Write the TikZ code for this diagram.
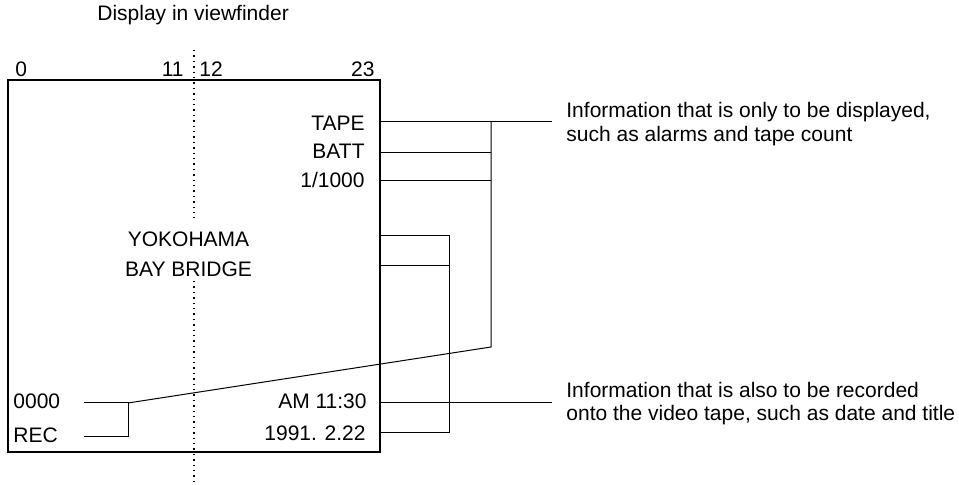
\documentclass[tikz,border=0pt]{standalone}
\usepackage{fontspec}
\setmainfont{Liberation Sans}
\begin{document}
\begin{tikzpicture}[x=0.5pt,y=-0.5pt,
  lbl/.style={inner sep=0pt, font=\fontsize{10.5}{12.6}\selectfont},
  wire/.style={line width=0.5pt},
  frame/.style={line width=1.3pt},
  guide/.style={line width=0.75pt, dash pattern=on 0.75pt off 1.95pt}]
\useasboundingbox (0,0) rectangle (959,485);
% title and column numbers
\node[lbl,anchor=base west] (title) at (97,21) {Display in viewfinder};
\node[lbl,anchor=base west] (n0) at (15,77) {0};
\node[lbl,anchor=base east] (n11) at (184,77) {11};
\node[lbl,anchor=base west] (n12) at (199,77) {12};
\node[lbl,anchor=base east] (n23) at (375,77) {23};
% centre guide
\coordinate (g1) at (194,50);
\coordinate (g2) at (194,218);
\coordinate (g3) at (194,281);
\coordinate (g4) at (194,483);
\draw[guide] (g1) -- (g2);
\draw[guide] (g3) -- (g4);
% viewfinder frame
\coordinate (boxnw) at (8,80);
\coordinate (boxse) at (380,452);
\draw[frame] (boxnw) rectangle (boxse);
% texts in the viewfinder
\node[lbl,anchor=base east] (tape) at (365,131) {TAPE};
\node[lbl,anchor=base east] (batt) at (365,159) {BATT};
\node[lbl,anchor=base east] (shut) at (365,188) {1/1000};
\node[lbl,anchor=base] (yoko) at (188.5,247) {YOKOHAMA};
\node[lbl,anchor=base] (bay) at (188.5,277) {BAY BRIDGE};
\node[lbl,anchor=base west] (cnt) at (13,409) {0000};
\node[lbl,anchor=base west] (rec) at (13,443) {REC};
\node[lbl,anchor=base east] (time) at (367,409) {AM 11:30};
\node[lbl,anchor=base east] (date) at (366,441) {1991. 2.22};
% explanation labels
\node[lbl,anchor=base west] (infoA1) at (566,118) {Information that is only to be displayed,};
\node[lbl,anchor=base west] (infoA2) at (566,142) {such as alarms and tape count};
\node[lbl,anchor=base west] (infoB1) at (566,398) {Information that is also to be recorded};
\node[lbl,anchor=base west] (infoB2) at (566,421) {onto the video tape, such as date and title};
% connector points
\coordinate (tapeE) at (380,122);
\coordinate (battE) at (380,153);
\coordinate (shutE) at (380,181);
\coordinate (t1E) at (380,236);
\coordinate (t2E) at (380,266);
\coordinate (timeE) at (380,403);
\coordinate (dateE) at (380,433);
\coordinate (busA) at (491,122);
\coordinate (busAb) at (491,153);
\coordinate (busAc) at (491,181);
\coordinate (busAend) at (491,347);
\coordinate (busB) at (449,236);
\coordinate (busBb) at (449,266);
\coordinate (busBend) at (449,433);
\coordinate (infoAend) at (552,122);
\coordinate (infoBend) at (552,403);
\coordinate (cntE) at (84,403);
\coordinate (recE) at (84,437);
\coordinate (lj1) at (128,403);
\coordinate (lj2) at (128,437);
% connectors
\draw[wire] (tapeE) -- (infoAend);
\draw[wire] (battE) -- (busAb);
\draw[wire] (shutE) -- (busAc);
\draw[wire] (busA) -- (busAend) -- (lj1);
\draw[wire] (cntE) -- (lj1) -- (lj2) -- (recE);
\draw[wire] (t1E) -- (busB) -- (busBend) -- (dateE);
\draw[wire] (t2E) -- (busBb);
\draw[wire] (timeE) -- (infoBend);
\end{tikzpicture}
\end{document}
